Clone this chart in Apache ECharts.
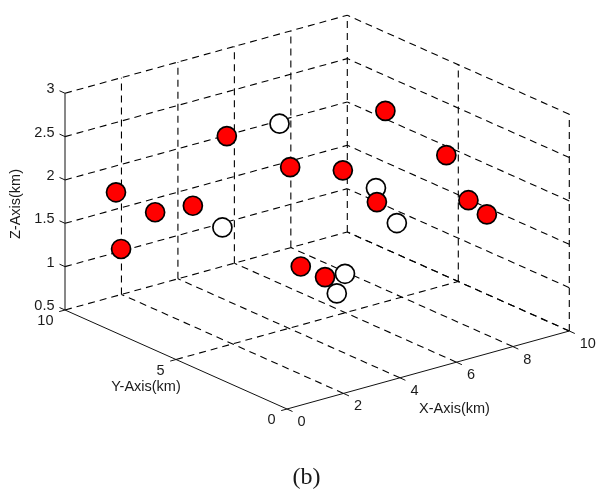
<!DOCTYPE html>
<html>
<head>
<meta charset="utf-8">
<script src="https://cdn.jsdelivr.net/npm/echarts@6/dist/echarts.min.js"></script>
<style>
html,body{margin:0;padding:0;background:#fff;}
#main{width:598px;height:494px;}
</style>
</head>
<body>
<div id="main"></div>
<script>
// ---- data (km) ----
const redX = [1.02, 1.20, 1.62, 2.17, 4.16, 4.83, 5.91, 8.99, 8.79, 6.33, 8.00, 8.26, 2.06, 2.92];
const redY = [9, 9, 8, 7, 8, 6, 5, 7, 4, 4, 2, 1.5, 2, 2];
const redZ = [1.88, 1.21, 1.71, 1.85, 2.36, 2.17, 2.15, 2.33, 2.18, 1.86, 1.96, 1.83, 1.73, 1.53];
const whiteX = [5.24, 2.43, 5.51, 6.25, 2.84, 2.55];
const whiteY = [7, 6, 3, 3, 1, 1];
const whiteZ = [2.52, 1.69, 2.21, 1.74, 1.69, 1.49];
const xTicks = [0, 2, 4, 6, 8, 10];
const yTicks = [0, 5, 10];
const zTicks = [0.5, 1, 1.5, 2, 2.5, 3];
const xTickLabels = ['0', '2', '4', '6', '8', '10'];
const yTickLabels = ['0', '5', '10'];
const zTickLabels = ['0.5', '1', '1.5', '2', '2.5', '3'];
const axisTitles = { x: 'X-Axis(km)', y: 'Y-Axis(km)', z: 'Z-Axis(km)' };
const caption = '(b)';

// ---- view (orthographic projection of the 3D box onto the page) ----
const X0 = 0, X1 = 10, Y0 = 0, Y1 = 10, Z0 = 0.5, Z1 = 3;
const ORG = [287, 409];
const EX = [28.23, -7.8], EY = [-22.2, -9.9], EZ = [0, -86.7];
function P(x, y, z) {
  return [ORG[0] + EX[0] * x + EY[0] * y + EZ[0] * (z - Z0),
          ORG[1] + EX[1] * x + EY[1] * y + EZ[1] * (z - Z0)];
}

// segments: [x1,y1,x2,y2,kind]  kind 0 = dashed grid, 1 = solid axis, 2 = tick
const segs = [];
function seg(a, b, kind) { segs.push([a[0], a[1], b[0], b[1], kind]); }
// back-left wall (y = Y1)
zTicks.forEach(z => seg(P(X0, Y1, z), P(X1, Y1, z), 0));
xTicks.forEach(x => { if (x !== X0) seg(P(x, Y1, Z0), P(x, Y1, Z1), 0); });
// back-right wall (x = X1)
zTicks.forEach(z => seg(P(X1, Y0, z), P(X1, Y1, z), 0));
yTicks.forEach(y => { if (y !== Y1) seg(P(X1, y, Z0), P(X1, y, Z1), 0); });
// floor
yTicks.forEach(y => { if (y !== Y0 && y !== Y1) seg(P(X0, y, Z0), P(X1, y, Z0), 0); });
xTicks.forEach(x => { if (x !== X0) seg(P(x, Y0, Z0), P(x, Y1, Z0), 0); });
// axes
seg(P(X0, Y0, Z0), P(X1, Y0, Z0), 1);
seg(P(X0, Y0, Z0), P(X0, Y1, Z0), 1);
seg(P(X0, Y1, Z0), P(X0, Y1, Z1), 1);
// ticks
xTicks.forEach(x => { const a = P(x, Y0, Z0); seg(a, [a[0] + 5.5, a[1] + 2.5], 2); });
yTicks.forEach(y => { const a = P(X0, y, Z0); seg(a, [a[0] - 5.8, a[1] + 1.6], 2); });
zTicks.forEach(z => { const a = P(X0, Y1, z); seg(a, [a[0] - 5.5, a[1] - 2.5], 2); });

// texts: [x, y, text, align, rotate, kind]
const texts = [];
xTicks.forEach((x, i) => { const a = P(x, Y0, Z0); texts.push([a[0] + 10.5, a[1] + 13, xTickLabels[i], 'left', 0, 0]); });
yTicks.forEach((y, i) => { const a = P(X0, y, Z0); texts.push([a[0] - 11.5, a[1] + 11, yTickLabels[i], 'right', 0, 0]); });
zTicks.forEach((z, i) => { const a = P(X0, Y1, z); texts.push([a[0] - 10.5, a[1] - 4, zTickLabels[i], 'right', 0, 0]); });
texts.push([454.5, 408.5, axisTitles.x, 'center', 0, 0]);
texts.push([146, 387, axisTitles.y, 'center', 0, 0]);
texts.push([15.5, 204, axisTitles.z, 'center', 1, 0]);
texts.push([306.5, 477.5, caption, 'center', 0, 1]);

const redPts = redX.map((x, i) => P(x, redY[i], redZ[i]));
const whitePts = whiteX.map((x, i) => P(x, whiteY[i], whiteZ[i]));

const chart = echarts.init(document.getElementById('main'), null, { renderer: 'canvas' });
chart.setOption({
  animation: false,
  backgroundColor: '#ffffff',
  grid: { left: 0, right: 0, top: 0, bottom: 0 },
  xAxis: { type: 'value', min: 0, max: 598, show: false },
  yAxis: { type: 'value', min: 0, max: 494, inverse: true, show: false },
  series: [
    {
      type: 'custom',
      silent: true,
      z: 1,
      data: segs,
      encode: { x: [0, 2], y: [1, 3] },
      renderItem: function (params, api) {
        const a = api.coord([api.value(0), api.value(1)]);
        const b = api.coord([api.value(2), api.value(3)]);
        const kind = api.value(4);
        return {
          type: 'line',
          shape: { x1: a[0], y1: a[1], x2: b[0], y2: b[1] },
          style: {
            stroke: kind === 0 ? '#000' : '#111',
            lineWidth: kind === 0 ? 1.1 : 1,
            lineDash: kind === 0 ? [7, 5] : null
          }
        };
      }
    },
    {
      type: 'custom',
      silent: true,
      z: 2,
      data: texts,
      encode: { x: 0, y: 1 },
      renderItem: function (params, api) {
        const t = texts[params.dataIndex];
        const c = api.coord([t[0], t[1]]);
        const serif = t[5] === 1;
        return {
          type: 'text',
          x: c[0], y: c[1],
          rotation: t[4] ? Math.PI / 2 : 0,
          style: {
            text: t[2],
            fill: '#1a1a1a',
            font: serif ? '24px "Liberation Serif", serif' : '14.5px "Liberation Sans", Arial, sans-serif',
            align: t[3],
            verticalAlign: 'middle'
          }
        };
      }
    },
    {
      type: 'scatter',
      z: 3,
      data: whitePts,
      symbol: 'circle',
      symbolSize: 19,
      itemStyle: { color: '#ffffff', borderColor: '#000', borderWidth: 1.7, opacity: 1 },
      emphasis: { disabled: true }
    },
    {
      type: 'scatter',
      z: 4,
      data: redPts,
      symbol: 'circle',
      symbolSize: 19,
      itemStyle: { color: '#ff0000', borderColor: '#000', borderWidth: 1.7, opacity: 1 },
      emphasis: { disabled: true }
    }
  ]
});
</script>
</body>
</html>
